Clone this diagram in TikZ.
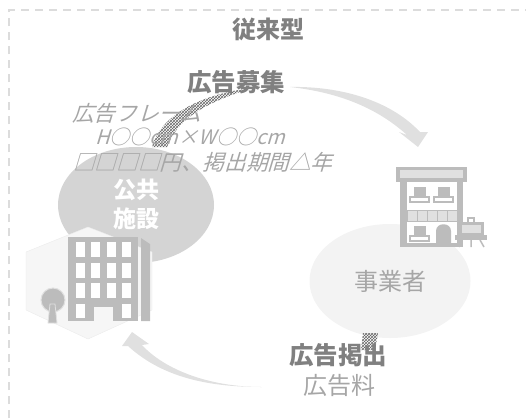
\documentclass[tikz,border=0pt]{standalone}
\usepackage{fontspec}
\usepackage{xcolor}
\setmainfont{Noto Sans CJK JP}
\newfontfamily\slantfont[FakeSlant=0.3]{Noto Sans CJK JP}
\usetikzlibrary{arrows,positioning,shapes,patterns}
\definecolor{textgray}{HTML}{808080}
\definecolor{lightgray}{HTML}{A6A6A6}
\definecolor{frame}{HTML}{DCDCDC}
\definecolor{iconfill}{HTML}{BCBCBC}
\definecolor{iconpale}{HTML}{E0E0E0}
\definecolor{bubbledark}{HTML}{D4D4D4}
\definecolor{bubblepale}{HTML}{F3F3F3}
\definecolor{hexfill}{HTML}{F6F6F6}

\begin{document}
\begin{tikzpicture}[x=1pt, y=-1pt]
    % Define styles
    \tikzstyle{title} = [font=\fontsize{24}{26}\selectfont\bfseries, text=textgray, inner sep=0pt]
    \tikzstyle{strong} = [font=\fontsize{24.5}{26}\selectfont\bfseries, text=textgray, inner sep=0pt]
    \tikzstyle{plain} = [font=\fontsize{24}{26}\selectfont, text=lightgray, inner sep=0pt]
    \tikzstyle{note} = [font=\fontsize{21.6}{24}\selectfont\slantfont, text=lightgray, inner sep=0pt, anchor=west]
    \tikzstyle{bubble} = [ellipse, inner sep=0pt]
    \tikzstyle{sweep} = [fill=iconpale]
    \tikzstyle{hatch} = [pattern=crosshatch, pattern color=black!60]
    \tikzstyle{icon} = [fill=iconfill]
    \tikzstyle{hole} = [fill=white]

    \useasboundingbox (0,0) rectangle (526,418);

    % Frame
    \coordinate (framefoot) at (9,418);
    \coordinate (framecorner) at (9,10);
    \coordinate (frameend) at (526,10);
    \draw [frame, line width=1.8pt, dash pattern=on 8pt off 6pt] (framefoot) -- (framecorner) -- (frameend);

    % Bubbles
    \node [bubble, fill=bubbledark, minimum width=156pt, minimum height=116pt] (facility) at (136,205) {};
    \node [bubble, fill=bubblepale, minimum width=161pt, minimum height=114pt] (company) at (390,281) {};

    % Hexagon and building
    \fill [hexfill, draw=black!8] (88,227) -- (152,252) -- (152,310) -- (88,339) -- (26,310) -- (26,252) -- cycle;
    \fill [icon] (68,237) rectangle (138,321);
    \fill [icon] (141,238) -- (150,244) -- (150,321) -- (141,321) -- cycle;
    \foreach \x in {76,91,107,122} {
        \foreach \y in {242,263,283} {
            \fill [hole] (\x,\y) rectangle +(9,15);
        }
    }
    \fill [hole] (76,304) rectangle +(9,14);
    \fill [hole] (122,304) rectangle +(9,14);
    \fill [hexfill] (94,307) rectangle (113,321);
    \fill [icon, draw=black!12, line width=1pt] (53,300) circle (12);
    \fill [icon, draw=black!12, line width=.8pt] (50,304) -- (55,304) -- (57,323) -- (48,323) -- cycle;

    % Shop
    \fill [icon] (396,167) rectangle (467,182);
    \fill [iconpale] (400,170) rectangle (463,178);
    \fill [icon] (400,182) rectangle (463,247);
    \fill [hole] (407,182) rectangle (457,243);
    \foreach \x in {407,417,427,437,447} {
        \fill [iconpale, draw=iconfill, line width=.5pt] (\x,210) rectangle +(10,11);
    }
    \foreach \x/\y in {414/187,438/187,414/226} {
        \fill [icon] (\x,\y) rectangle +(12,10);
        \draw [iconfill, line width=1.2pt] (\x-4,\y+10) rectangle +(19,5);
    }
    \fill [icon] (436,243) -- (436,231) .. controls (436,222) and (451,222) .. (451,231) -- (451,243) -- cycle;
    \fill [icon] (467,217) rectangle (475,222);
    \fill [hole] (469,219) rectangle (473,222);
    \fill [icon] (459,222) rectangle (484,236);
    \fill [iconpale] (462,225) rectangle (481,233);
    \fill [icon] (455,235) rectangle (487,240);
    \draw [iconfill, line width=1.5pt] (462,240) -- (459,247) (471,240) -- (471,247) (480,240) -- (484,247);

    % Arrows
    \coordinate (calltail) at (290,87);
    \coordinate (calltip) at (418,147);
    \coordinate (paytail) at (262,387);
    \coordinate (paytip) at (132,332);
    \fill [sweep] (calltail) .. controls (340,86) and (390,100) .. (420,132) -- (428,132) -- (calltip) -- (399,132) -- (407,135)
        .. controls (375,106) and (335,92) .. (calltail) -- cycle;
    \fill [sweep] (paytail) .. controls (215,387) and (165,380) .. (128,346) -- (122,346) -- (paytip) -- (149,344) -- (142,345)
        .. controls (165,370) and (210,387) .. (paytail) -- cycle;
    \coordinate (hatchfoot) at (152,147);
    \coordinate (hatchhead) at (252,88);
    \fill [hatch] (hatchfoot) .. controls (160,118) and (195,95) .. (hatchhead) .. controls (205,103) and (178,118) .. (167,147) -- cycle;
    \coordinate (stubtop) at (363,333);
    \coordinate (stubfoot) at (361,350);
    \fill [hatch] (stubtop) -- (378,333) -- (375,350) -- (stubfoot) -- cycle;

    % Labels
    \node [title] (heading) at (268,29) {従来型};
    \node [strong] (recruit) at (236,82) {広告募集};
    \node [note] (frameline) at (72,113) {広告フレーム};
    \node [note, font=\fontsize{20}{24}\selectfont\slantfont] (sizeline) at (95,137) {H○○cm×W○○cm};
    \node [note] (priceline) at (73,162) {□□□□円、掲出期間△年};
    \node [strong, text=white, font=\fontsize{23}{25}\selectfont\bfseries] (facilitytop) at (136,190) {公共};
    \node [strong, text=white, font=\fontsize{23}{25}\selectfont\bfseries] (facilitylow) at (136,219) {施設};
    \node [plain] (companytext) at (390,281) {事業者};
    \node [strong] (posting) at (338,355) {広告掲出};
    \node [plain] (fee) at (339,385) {広告料};

\end{tikzpicture}
\end{document}
